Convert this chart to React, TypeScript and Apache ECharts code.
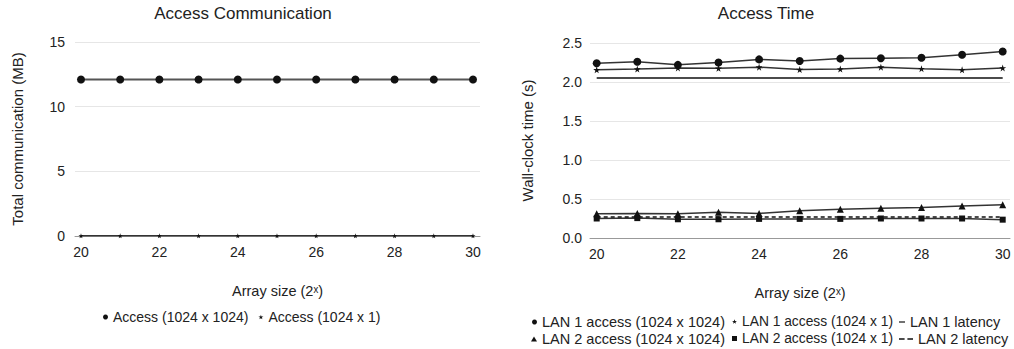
import React, { useEffect, useRef } from "react";
import * as echarts from "echarts";

const SIZES = [20, 21, 22, 23, 24, 25, 26, 27, 28, 29, 30];
const X_TICKS = [20, 22, 24, 26, 28, 30];

const COMM_1024x1024 = [12.1, 12.1, 12.1, 12.1, 12.1, 12.1, 12.1, 12.1, 12.1, 12.1, 12.1];
const COMM_1024x1 = [0.01, 0.01, 0.01, 0.01, 0.01, 0.01, 0.01, 0.01, 0.01, 0.01, 0.01];

const LAN1_1024x1024 = [2.24, 2.26, 2.22, 2.25, 2.29, 2.27, 2.3, 2.305, 2.31, 2.35, 2.39];
const LAN1_1024x1 = [2.156, 2.166, 2.18, 2.175, 2.19, 2.16, 2.166, 2.19, 2.17, 2.156, 2.18];
const LAN1_LATENCY = [2.05, 2.05, 2.05, 2.05, 2.05, 2.05, 2.05, 2.05, 2.05, 2.05, 2.05];
const LAN2_1024x1024 = [0.31, 0.315, 0.31, 0.33, 0.315, 0.35, 0.37, 0.38, 0.39, 0.41, 0.425];
const LAN2_1024x1 = [0.25, 0.255, 0.24, 0.24, 0.245, 0.245, 0.245, 0.25, 0.25, 0.25, 0.235];
const LAN2_LATENCY = [0.27, 0.27, 0.27, 0.27, 0.27, 0.27, 0.27, 0.27, 0.27, 0.27, 0.27];

const STAR =
  "path://M50,0 L61,35 L98,35 L68,57 L79,91 L50,70 L21,91 L32,57 L2,35 L39,35 Z";
const DASH = "path://M0,0 L10,0 L10,2 L0,2 Z";
const DASH2 = "path://M0,0 L8,0 L8,2 L0,2 Z M12,0 L20,0 L20,2 L12,2 Z";

const FONT = "Arial, 'Liberation Sans', sans-serif";
const TEXT = "#222";

const pts = (vals: number[]) => SIZES.map((s, i) => [s, vals[i]]);

export default function App() {
  const ref = useRef<HTMLDivElement>(null);
  useEffect(() => {
    document.body.style.margin = "0";
    if (!ref.current) return;
    const chart = echarts.init(ref.current, undefined, { renderer: "svg" });

    const xAxisBase = (gridIndex: number, min: number, max: number) => ({
      type: "value",
      gridIndex,
      min,
      max,
      name: "Array size (2ˣ)",
      nameLocation: "middle",
      nameGap: 47,
      nameTextStyle: { fontSize: 14.5, color: TEXT, fontFamily: FONT },
      axisLine: { show: true, lineStyle: { color: "#999", width: 1 } },
      axisTick: { show: false },
      splitLine: { show: false },
      axisLabel: {
        customValues: X_TICKS,
        fontSize: 14,
        color: TEXT,
        fontFamily: FONT,
        margin: 9,
      },
    });

    const lineSeries = (
      name: string,
      vals: number[],
      idx: number,
      symbol: string,
      size: number,
      lineColor: string,
      lineWidth: number,
      dashed = false
    ) => ({
      type: "line",
      name,
      xAxisIndex: idx,
      yAxisIndex: idx,
      data: pts(vals),
      symbol,
      symbolSize: size,
      showSymbol: symbol !== "none",
      lineStyle: { color: lineColor, width: lineWidth, type: dashed ? [4, 3] : "solid" },
      itemStyle: { color: "#111" },
      z: 3,
    });

    const oneLegend = (
      name: string,
      icon: string,
      left: number,
      top: number,
      itemWidth: number,
      fontSize: number
    ) => ({
      left,
      top,
      padding: 0,
      itemWidth,
      itemHeight: 5,
      textStyle: { fontSize, color: TEXT, fontFamily: FONT },
      data: [{ name, icon }],
    });

    chart.setOption({
      animation: false,
      backgroundColor: "#fff",
      textStyle: { fontFamily: FONT },
      graphic: [
        {
          type: "text",
          x: 243,
          y: 13,
          style: {
            text: "Access Communication",
            fontSize: 17,
            fill: TEXT,
            fontFamily: FONT,
            align: "center",
            verticalAlign: "middle",
          },
        },
        {
          type: "text",
          x: 766,
          y: 13,
          style: {
            text: "Access Time",
            fontSize: 17,
            fill: TEXT,
            fontFamily: FONT,
            align: "center",
            verticalAlign: "middle",
          },
        },
      ],
      grid: [
        { left: 75, top: 42, width: 405, height: 194 },
        { left: 590, top: 43, width: 420, height: 195 },
      ],
      xAxis: [xAxisBase(0, 19.847, 30.179), xAxisBase(1, 19.835, 30.18)],
      yAxis: [
        {
          type: "value",
          gridIndex: 0,
          min: 0,
          max: 15,
          interval: 5,
          name: "Total communication (MB)",
          nameLocation: "middle",
          nameGap: 50,
          nameTextStyle: { fontSize: 15, color: TEXT, fontFamily: FONT },
          axisLine: { show: false },
          axisTick: { show: false },
          splitLine: { lineStyle: { color: "#e6e6e6", width: 1 } },
          axisLabel: { fontSize: 14, color: TEXT, fontFamily: FONT, margin: 10 },
        },
        {
          type: "value",
          gridIndex: 1,
          min: 0,
          max: 2.5,
          interval: 0.5,
          name: "Wall-clock time (s)",
          nameLocation: "middle",
          nameGap: 55,
          nameTextStyle: { fontSize: 15, color: TEXT, fontFamily: FONT },
          axisLine: { show: false },
          axisTick: { show: false },
          splitLine: { lineStyle: { color: "#e6e6e6", width: 1 } },
          axisLabel: {
            fontSize: 14,
            color: TEXT,
            fontFamily: FONT,
            margin: 8,
            formatter: (v: number) => v.toFixed(1),
          },
        },
      ],
      legend: [
        {
          left: 103,
          top: 310,
          padding: 0,
          itemWidth: 5,
          itemHeight: 5,
          itemGap: 10,
          textStyle: { fontSize: 14, color: TEXT, fontFamily: FONT },
          data: [
            { name: "Access (1024 x 1024)", icon: "circle" },
            { name: "Access (1024 x 1)", icon: STAR },
          ],
        },
        oneLegend("LAN 1 access (1024 x 1024)", "circle", 532, 314.5, 5, 14.5),
        oneLegend("LAN 1 access (1024 x 1)", STAR, 732, 314.5, 5, 13.8),
        oneLegend("LAN 1 latency", DASH, 899, 314.5, 6, 14.5),
        oneLegend("LAN 2 access (1024 x 1024)", "triangle", 531, 331.5, 6, 14.5),
        oneLegend("LAN 2 access (1024 x 1)", "rect", 732, 331.5, 5, 13.8),
        oneLegend("LAN 2 latency", DASH2, 899, 331.5, 14, 14.5),
      ],
      series: [
        lineSeries("Access (1024 x 1024)", COMM_1024x1024, 0, "circle", 8, "#555", 2),
        lineSeries("Access (1024 x 1)", COMM_1024x1, 0, STAR, 5, "#333", 1.5),
        lineSeries("LAN 1 access (1024 x 1024)", LAN1_1024x1024, 1, "circle", 8, "#333", 1.5),
        lineSeries("LAN 1 access (1024 x 1)", LAN1_1024x1, 1, STAR, 7, "#333", 1.5),
        lineSeries("LAN 1 latency", LAN1_LATENCY, 1, "none", 0, "#111", 1.5),
        lineSeries("LAN 2 access (1024 x 1024)", LAN2_1024x1024, 1, "triangle", 7, "#333", 1.5),
        lineSeries("LAN 2 access (1024 x 1)", LAN2_1024x1, 1, "rect", 6, "#333", 1.5),
        lineSeries("LAN 2 latency", LAN2_LATENCY, 1, "none", 0, "#111", 1.5, true),
      ],
    });
    return () => chart.dispose();
  }, []);
  return <div ref={ref} style={{ width: 1014, height: 349 }} />;
}
